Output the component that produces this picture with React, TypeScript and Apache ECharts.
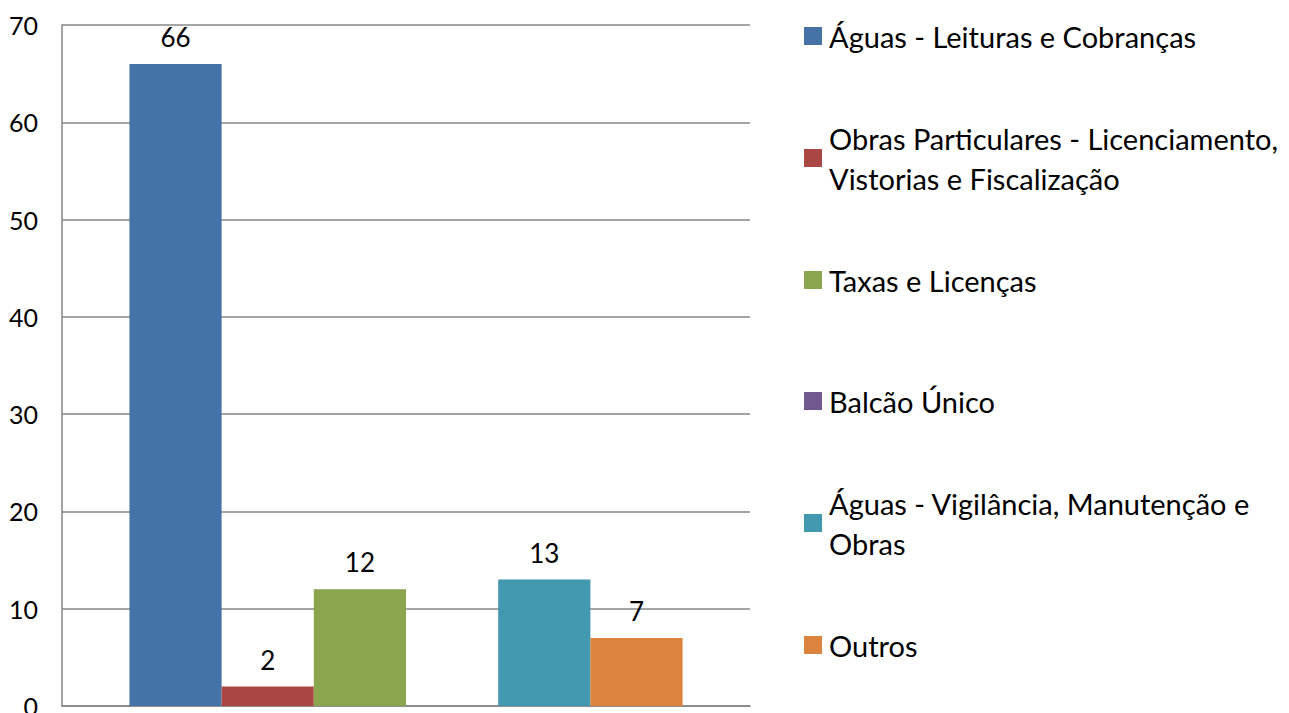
import React, { useEffect, useRef } from "react";
import * as echarts from "echarts";

const categories = [""];
const seriesNames = [
  "Águas - Leituras e Cobranças",
  "Obras Particulares - Licenciamento, Vistorias e Fiscalização",
  "Taxas e Licenças",
  "Balcão Único",
  "Águas - Vigilância, Manutenção e Obras",
  "Outros",
];
const legendLines: string[][] = [
  ["Águas - Leituras e Cobranças"],
  ["Obras Particulares - Licenciamento,", "Vistorias e Fiscalização"],
  ["Taxas e Licenças"],
  ["Balcão Único"],
  ["Águas - Vigilância, Manutenção e", "Obras"],
  ["Outros"],
];
const seriesValues: (number | null)[][] = [[66], [2], [12], [null], [13], [7]];
const seriesColors = ["#4572A7", "#AA4643", "#89A54E", "#71588F", "#4198AF", "#DB843D"];
const yTicks = { min: 0, max: 70, interval: 10 };

const FONT = "Lato, 'Open Sans', sans-serif";
const legendCenters = [36, 158, 280, 401, 523, 645];

export default function App() {
  const ref = useRef<HTMLDivElement>(null);
  useEffect(() => {
    if (!ref.current) return;
    const chart = echarts.init(ref.current, undefined, { renderer: "svg" });
    const legends = seriesNames.map((name, i) => {
      const lines = legendLines[i];
      const multi = lines.length > 1;
      return {
        left: 804,
        top: legendCenters[i] - (multi ? 60 : 20),
        padding: 0,
        orient: "vertical",
        icon: "rect",
        itemWidth: 18,
        itemHeight: 18,
        selectedMode: false,
        data: [name],
        formatter: () => lines.join("\n"),
        textStyle: {
          fontFamily: FONT,
          fontSize: 29,
          color: "#000",
          lineHeight: 40,
          padding: multi ? [40, 0, 0, 2] : [0, 0, 0, 2],
        },
      };
    });
    chart.setOption({
      animation: false,
      color: seriesColors,
      textStyle: { fontFamily: FONT },
      legend: legends,
      grid: {
        left: 62,
        top: 25,
        right: 539,
        bottom: 7,
        containLabel: false,
        outerBoundsMode: "none",
      },
      xAxis: {
        type: "category",
        data: categories,
        axisLine: { show: true, lineStyle: { color: "#868686", width: 1.5 } },
        axisTick: { show: false },
        axisLabel: { show: false },
        splitLine: { show: false },
      },
      yAxis: {
        type: "value",
        min: yTicks.min,
        max: yTicks.max,
        interval: yTicks.interval,
        axisLine: { show: true, lineStyle: { color: "#868686", width: 1.5 } },
        axisTick: { show: false },
        axisLabel: { color: "#000", fontSize: 25, fontFamily: FONT, margin: 24 },
        splitLine: { show: true, lineStyle: { color: "#868686", width: 1.5 } },
      },
      series: seriesNames.map((name, i) => ({
        name,
        type: "bar",
        data: seriesValues[i],
        barGap: "0%",
        barCategoryGap: "19.6%",
        itemStyle: { color: seriesColors[i] },
        label: {
          show: true,
          position: "top",
          distance: 14,
          color: "#000",
          fontSize: 26,
          lineHeight: 26,
          fontFamily: FONT,
        },
      })),
    });
    return () => chart.dispose();
  }, []);
  return <div ref={ref} style={{ width: 1289, height: 713, position: "absolute", left: 0, top: 0 }} />;
}
